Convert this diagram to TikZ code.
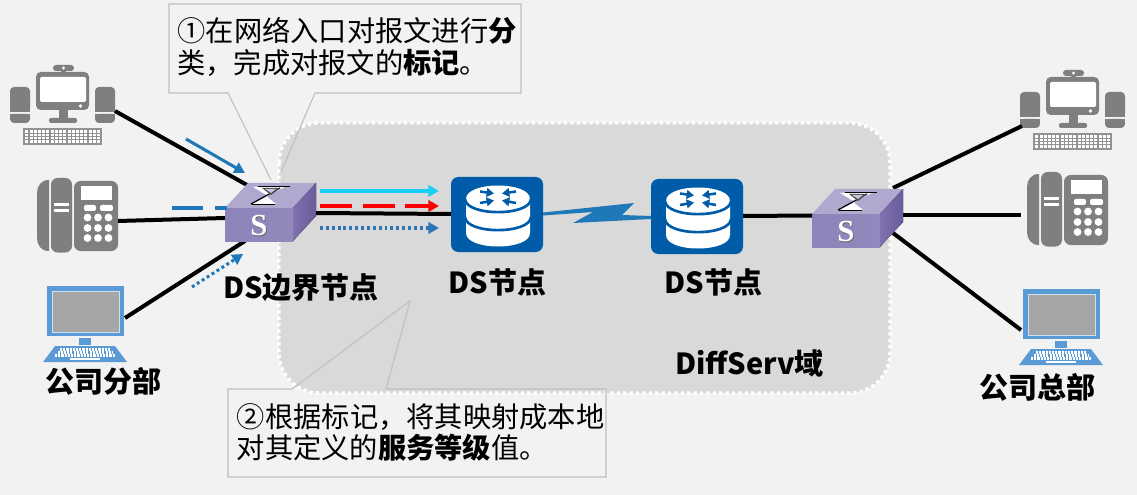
\documentclass[tikz,border=0pt]{standalone}
\usepackage{fontspec}
\setmainfont{Noto Sans CJK SC}
\newfontfamily\serifbf{Liberation Serif}
\usetikzlibrary{arrows.meta,shadings}
\definecolor{bgc}{HTML}{F2F2F2}
\definecolor{domc}{HTML}{D9D9D9}
\definecolor{iconc}{HTML}{7F7F7F}
\definecolor{flowb}{HTML}{1F78B8}
\definecolor{flowd}{HTML}{2E75B6}
\definecolor{cyanf}{HTML}{19CFF5}
\definecolor{routerc}{HTML}{005CA8}
\definecolor{lapc}{HTML}{5B9BD5}
\definecolor{calloutc}{HTML}{BFBFBF}
\tikzset{
  x=.75pt,y=-.75pt,
  wire/.style={line width=3pt,black},
  flowtip/.style={-{Triangle[length=8pt,width=8.5pt]}},
  flowline/.style={line width=2.3pt,flowtip},
  calloutline/.style={draw=calloutc,line width=.8pt},
  lab/.style={font=\fontsize{21.75}{24}\selectfont\bfseries,inner sep=0pt,text=black},
  note/.style={font=\fontsize{21.2}{23}\selectfont,inner sep=0pt,align=left,anchor=north west,text=black},
  pcicon/.pic={
    \fill[iconc,rounded corners=3pt] (10,87) rectangle (30,112);
    \fill[iconc,rounded corners=3pt] (10,114) rectangle (30,123);
    \fill[iconc] (10,108) rectangle (30,112);\fill[iconc] (10,114) rectangle (30,118);
    \fill[iconc,rounded corners=3pt] (95,87) rectangle (115,112);
    \fill[iconc,rounded corners=3pt] (95,114) rectangle (115,123);
    \fill[iconc] (95,108) rectangle (115,112);\fill[iconc] (95,114) rectangle (115,118);
    \fill[iconc,rounded corners=3.5pt] (36,72) rectangle (89,110);
    \fill[white,rounded corners=1pt] (40,77) rectangle (86,102);
    \fill[white] (80.5,106) circle (1.8);
    \fill[iconc] (59,110) rectangle (68,119);
    \fill[iconc,rounded corners=1.5pt] (49,118) rectangle (77,123);
    \fill[iconc,rounded corners=2.2pt] (53,65) rectangle (74,71);
    \fill[iconc] (61,70) rectangle (66,72);
    \fill[white] (63.5,68) circle (1.6);
    \fill[iconc!85!white] (23,128) rectangle (102,145);
    \foreach \r in {0,1,2,3}{\foreach \c in {0,...,17}{
      \fill[white] ({25.3+\c*4.22},{130.2+\r*3.4}) rectangle +(3,2.4);}}
    \coordinate (-east) at (115,111);
    \coordinate (-west) at (12,121);
  },
  phoneicon/.pic={
    \fill[iconc] (49,180) -- (49,251) .. controls (41,251) and (37,245) .. (37,238) -- (37,193) .. controls (37,186) and (41,180) .. (49,180) -- cycle;
    \fill[iconc,rounded corners=5pt] (51,178) rectangle (72,252.5);
    \fill[iconc,rounded corners=5pt] (74,181) rectangle (118,251);
    \fill[white] (54,203) rectangle (69,206.5);
    \fill[white] (54,209) rectangle (69,212.5);
    \fill[white] (81,186) rectangle (112,200);
    \fill[white,rounded corners=1.5pt] (84,205) rectangle (96,211);
    \fill[white,rounded corners=1.5pt] (100,205) rectangle (113,211);
    \foreach \py in {217.5,228,238}{\foreach \px in {87.5,98,108.5}{\fill[white] (\px,\py) circle (3.9);}}
    \coordinate (-east) at (118,221);
    \coordinate (-west) at (31,221);
  },
  lapicon/.pic={
    \fill[lapc] (47,286) rectangle (124,336);
    \fill[white!70!lapc] (51.5,290.5) rectangle (119.5,333);
    \fill[black!35] (52.5,291.5) rectangle (118.5,332);
    \fill[lapc] (79,338) rectangle (91,345);
    \fill[lapc] (55,346) -- (115,346) -- (127,362) -- (43,362) -- cycle;
    \foreach \r/\a/\b in {0/60/110,1/57.5/113,2/55/115.5}{
      \draw[white,line width=1.9pt,dash pattern=on 1.6pt off .8pt] (\a,{349.5+\r*2.9}) -- (\b,{349.5+\r*2.9});}
    \fill[white] (70,357.5) rectangle (100,360);
    \coordinate (-east) at (125,318);
    \coordinate (-west) at (45,327);
    \coordinate (-top) at (45,327);
  },
  routericon/.pic={
    \fill[routerc,rounded corners=5.5pt] (451,177) rectangle (543,252);
    \fill[white] (466,199) .. controls (466,181) and (530,181) .. (530,199) -- (530,233)
       .. controls (530,251) and (466,251) .. (466,233) -- cycle;
    \foreach \cy in {199,217}{
      \draw[routerc,line width=2pt] (465,\cy) .. controls (466,{\cy+17.5}) and (530,{\cy+17.5}) .. (531,\cy);}
    \foreach \sx/\sy/\ex/\ey in {480/191.5/494/193.5, 480/203/494/200.5, 516/191.5/502/193.5, 516/203/502/200.5}{
      \draw[routerc,line width=1.9pt,-{Triangle[length=5.5pt,width=6.5pt]}] (\sx,\sy) -- (\ex,\ey);}
    \coordinate (-west) at (451,214);
    \coordinate (-east) at (543,214);
  },
  switchicon/.pic={
    \fill[top color=black!0,bottom color=black!0,fill=white!10!black!0] (0,0) circle (0);
    \fill[left color=swfrontl,right color=swfrontr] (225,208) rectangle (293,241);
    \fill[swtop] (225,208) -- (248,183) -- (316,183) -- (293,208) -- cycle;
    \fill[left color=swsidel,right color=swsider] (293,208) -- (316,183) -- (316,216) -- (293,241) -- cycle;
    \fill[white] (253,187) -- (285,187) -- (266,196) -- (276,204) -- (252,204) -- (268,196) -- cycle;
    \draw[black,line width=.9pt] (258,186.5) -- (290,186.5);
    \draw[black,line width=.9pt] (251,204) -- (280,188);
    \draw[black,line width=.6pt] (252,204) -- (275,204);
    \fill[black!70,] (262,188) -- (280,188) -- (271,195) -- cycle;
    \fill[swtop!70!white] (265,189) -- (276,189) -- (271,193) -- cycle;
    \node[inner sep=0pt,text=black!60] at (259.7,226.3) {\serifbf\fontsize{23}{23}\selectfont\bfseries\pgfkeysvalueof{/tikz/swletter}};
    \node[inner sep=0pt,text=white] at (259,225.5) {\serifbf\fontsize{23}{23}\selectfont\bfseries\pgfkeysvalueof{/tikz/swletter}};
    \coordinate (-east) at (316,213);
    \coordinate (-west) at (225,218);
    \coordinate (-nw) at (247,185);
    \coordinate (-sw) at (245,241);
    \coordinate (-ne) at (306,183);
    \coordinate (-se) at (306,227);
  },
  swletter/.initial={S},
}
\definecolor{swtop}{HTML}{B1A8D0}
\definecolor{swfrontl}{HTML}{8F84BA}
\definecolor{swfrontr}{HTML}{9288BC}
\definecolor{swsidel}{HTML}{7F72AE}
\definecolor{swsider}{HTML}{6A5B9B}
\begin{document}
\begin{tikzpicture}
\path[use as bounding box,fill=bgc] (0,0) rectangle (1137,495);
% DiffServ domain
\draw[fill=domc,draw=white,line width=2.6pt,dash pattern=on 2.4pt off 2.4pt,rounded corners=30pt] (279,123) rectangle (890,393);
% callouts
\draw[calloutline] (228,93) -- (169,93) -- (169,4) -- (521,4) -- (521,93) -- (315,93) -- (281,172);
\draw[calloutline] (228,93) -- (271,180);
\draw[calloutline] (292,389) -- (228,389) -- (228,477) -- (606,477) -- (606,389) -- (386,389) -- (410,301) -- cycle;
\node[note] (note1) at (177,17.5) {①\kern-4.6pt\ 在网络入口对报文进行\textbf{分}\\[.4pt]类，完成对报文的\textbf{标记}。};
\node[note] (note2) at (236.5,403) {②\kern-4.6pt\ 根据标记，将其映射成本地\\[.4pt]对其定义的\textbf{服务等级}值。};
% devices
\pic (pca) at (0,0) {pcicon};
\pic (pha) at (0,0) {phoneicon};
\pic (lapa) at (0,0) {lapicon};
\pic (pcb) at (1010,5) {pcicon};
\pic (phb) at (990,-6) {phoneicon};
\pic (lapb) at (976,3) {lapicon};
% links
\draw[wire] (pca-east) -- (247,185);
\draw[wire] (pha-east) -- (225,218);
\draw[wire] (lapa-east) -- (245,241);
\coordinate (swb-a) at (893,188);
\coordinate (swb-b) at (903,215);
\coordinate (swb-c) at (893,233);
\draw[wire] (swb-a) -- (pcb-west);
\draw[wire] (swb-b) -- (phb-west);
\draw[wire] (swb-c) -- (lapb-west);
\pic (ra) at (0,0) {routericon};
\pic (rb) at (200,2) {routericon};
\pic (swa) at (0,0) {switchicon};
\pic (swb) at (587,6) {switchicon};
\draw[wire] (swa-east) -- (ra-west);
\draw[wire] (rb-east) -- (812,215.5);
% wireless link
\fill[flowb] (ra-east) ++(0,-1.5) -- (634,203) -- (622,215) -- (rb-west) -- ++(0,3) -- (573,223) -- (593,212) -- (543,215.5) -- cycle;
% flows
\coordinate (fa1) at (186,139);\coordinate (fa2) at (245,173);
\draw[flowline,flowb] (fa1) -- (fa2);
\coordinate (fb1) at (172,208);\coordinate (fb2) at (227,208);
\draw[flowb,line width=2.3pt,dash pattern=on 23pt off 9pt] (fb1) -- (fb2);
\coordinate (fc1) at (192,287);\coordinate (fc2) at (243,254);
\draw[flowline,flowb,dash pattern=on 2.2pt off 2.2pt] (fc1) -- (fc2);
\coordinate (c1) at (320,191);\coordinate (c2) at (439,191);
\draw[flowline,cyanf] (c1) -- (c2);
\coordinate (d1) at (320,206);\coordinate (d2) at (439,206);
\draw[flowline,red,dash pattern=on 24pt off 8pt] (d1) -- (d2);
\coordinate (e1) at (320,228);\coordinate (e2) at (439,228);
\draw[flowline,flowd,dash pattern=on 2.2pt off 2.2pt] (e1) -- (e2);
% labels
\node[lab] (l1) at (103,381) {公司分部};
\node[lab] (l2) at (301,288) {DS边界节点};
\node[lab] (l3) at (497.5,282) {DS节点};
\node[lab] (l4) at (713.5,282) {DS节点};
\node[lab] (l5) at (749.5,363) {DiffServ域};
\node[lab] (l6) at (1037,387) {公司总部};
\end{tikzpicture}
\end{document}
